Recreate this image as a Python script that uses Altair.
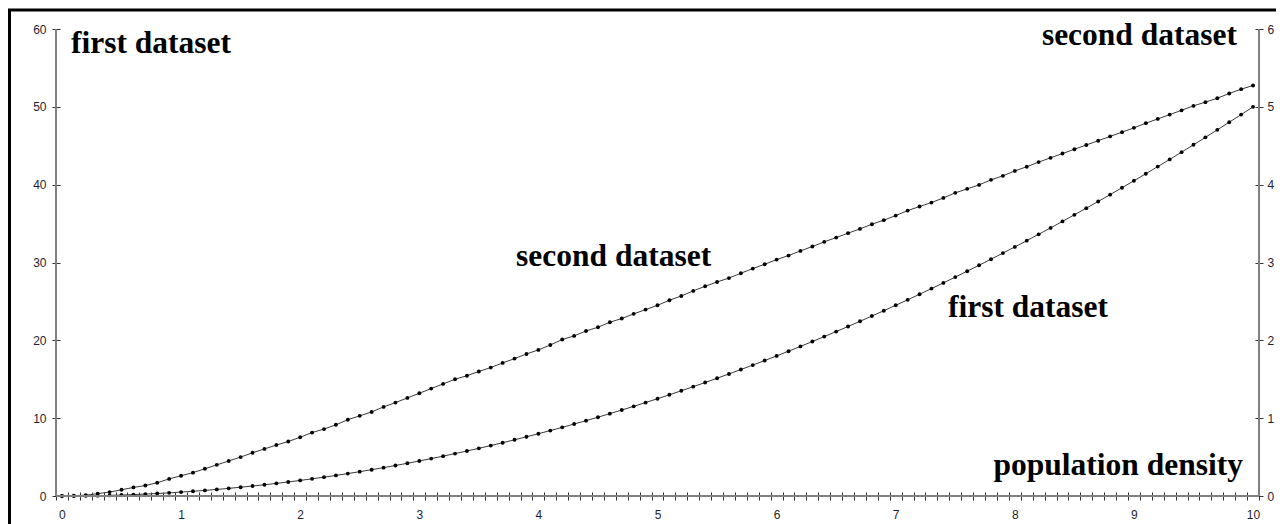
import altair as alt
import pandas as pd

# x categories: 0.0, 0.1, ..., 10.0
x_values = [round(i * 0.1, 1) for i in range(101)]

first_dataset = [
    0.0, 0.005, 0.02, 0.045, 0.08, 0.125, 0.18, 0.245, 0.32, 0.405,
    0.5, 0.605, 0.72, 0.845, 0.98, 1.125, 1.28, 1.445, 1.62, 1.805,
    2.0, 2.205, 2.42, 2.645, 2.88, 3.125, 3.38, 3.645, 3.92, 4.205,
    4.5, 4.805, 5.12, 5.445, 5.78, 6.125, 6.48, 6.845, 7.22, 7.605,
    8.0, 8.405, 8.82, 9.245, 9.68, 10.125, 10.58, 11.045, 11.52, 12.005,
    12.5, 13.005, 13.52, 14.045, 14.58, 15.125, 15.68, 16.245, 16.82, 17.405,
    18.0, 18.605, 19.22, 19.845, 20.48, 21.125, 21.78, 22.445, 23.12, 23.805,
    24.5, 25.205, 25.92, 26.645, 27.38, 28.125, 28.88, 29.645, 30.42, 31.205,
    32.0, 32.805, 33.62, 34.445, 35.28, 36.125, 36.98, 37.845, 38.72, 39.605,
    40.5, 41.405, 42.32, 43.245, 44.18, 45.125, 46.08, 47.045, 48.02, 49.005,
    50.0,
]

second_dataset = [
    0.0, 0.005, 0.01, 0.03, 0.05, 0.08, 0.11, 0.135, 0.17, 0.22,
    0.26, 0.30, 0.35, 0.40, 0.45, 0.50, 0.555, 0.605, 0.655, 0.70,
    0.755, 0.815, 0.86, 0.915, 0.98, 1.03, 1.08, 1.145, 1.20, 1.26,
    1.32, 1.38, 1.44, 1.50, 1.545, 1.60, 1.65, 1.71, 1.765, 1.825,
    1.877, 1.94, 2.01, 2.057, 2.12, 2.168, 2.233, 2.28, 2.34, 2.395,
    2.45, 2.515, 2.57, 2.635, 2.695, 2.75, 2.80, 2.862, 2.922, 2.978,
    3.037, 3.089, 3.149, 3.205, 3.265, 3.32, 3.377, 3.432, 3.492, 3.544,
    3.603, 3.667, 3.719, 3.77, 3.83, 3.895, 3.946, 3.997, 4.062, 4.113,
    4.177, 4.23, 4.29, 4.345, 4.40, 4.455, 4.51, 4.565, 4.62, 4.675,
    4.73, 4.79, 4.845, 4.90, 4.955, 5.013, 5.06, 5.111, 5.171, 5.227,
    5.274,
]

left_ticks = [0, 10, 20, 30, 40, 50, 60]
right_ticks = [0, 1, 2, 3, 4, 5, 6]

assert len(x_values) == len(first_dataset) == len(second_dataset) == 101

df = pd.DataFrame({"x": x_values, "first": first_dataset, "second": second_dataset})
one = pd.DataFrame({"a": [0]})

W, H = 1203, 467
LABEL_FONT = "Liberation Sans"
LABEL_SIZE = 12
LABEL_COLOR = "#1e1e32"
TICK_COLOR = "#333333"
AXIS_COLOR = "#808080"

# ticks sit between the categories (every 0.1, offset by half a step)
x_tick_vals = [round(-0.05 + 0.1 * k, 2) for k in range(102)]
half_step_px = W / 10.1 * 0.05

x_scale = alt.Scale(domain=[-0.05, 10.05], nice=False, zero=False)
x_axis = alt.Axis(
    values=x_tick_vals,
    labelExpr="abs((datum.value + 0.05) - round(datum.value + 0.05)) < 0.001 ? format(round(datum.value + 0.05), 'd') : ''",
    labelOffset=half_step_px,
    labelFlush=False,
    labelOverlap=False,
    labelBound=False,
    domain=False,
    grid=False,
    offset=-4,
    tickSize=8,
    tickColor=TICK_COLOR,
    tickWidth=1,
    labelPadding=9,
    labelFont=LABEL_FONT,
    labelFontSize=LABEL_SIZE,
    labelColor=LABEL_COLOR,
    title=None,
)

left_axis = alt.Axis(
    values=left_ticks, orient="left", domain=False, grid=False, offset=-4,
    tickSize=8, tickColor=TICK_COLOR, tickWidth=1, labelPadding=6,
    labelFont=LABEL_FONT, labelFontSize=LABEL_SIZE, labelColor=LABEL_COLOR, title=None,
)
right_axis = alt.Axis(
    values=right_ticks, orient="right", domain=False, grid=False, offset=-4,
    tickSize=8, tickColor=TICK_COLOR, tickWidth=1, labelPadding=4,
    labelFont=LABEL_FONT, labelFontSize=LABEL_SIZE, labelColor=LABEL_COLOR, title=None,
)

point_def = alt.OverlayMarkDef(filled=True, color="black", size=15, opacity=1)

lower = alt.Chart(df).mark_line(color="#3a3a3a", strokeWidth=1, point=point_def).encode(
    x=alt.X("x:Q", scale=x_scale, axis=x_axis),
    y=alt.Y("first:Q", scale=alt.Scale(domain=[0, 60], nice=False), axis=left_axis),
)
upper = alt.Chart(df).mark_line(color="#3a3a3a", strokeWidth=1, point=point_def).encode(
    x=alt.X("x:Q", scale=x_scale, axis=x_axis),
    y=alt.Y("second:Q", scale=alt.Scale(domain=[0, 6], nice=False), axis=right_axis),
)

# axis lines (left, right, bottom)
left_line = alt.Chart(one).mark_rule(color=AXIS_COLOR, strokeWidth=2).encode(
    x=alt.value(0), y=alt.value(0), y2=alt.value(H))
right_line = alt.Chart(one).mark_rule(color=AXIS_COLOR, strokeWidth=2).encode(
    x=alt.value(W), y=alt.value(0), y2=alt.value(H))
bottom_line = alt.Chart(one).mark_rule(color=AXIS_COLOR, strokeWidth=2).encode(
    x=alt.value(0), x2=alt.value(W), y=alt.value(H))

# frame around the picture (left and top edges are visible)
frame_left = alt.Chart(one).mark_rule(color="black", strokeWidth=3).encode(
    x=alt.value(-46.5), y=alt.value(-20), y2=alt.value(H + 60))
frame_top = alt.Chart(one).mark_rule(color="black", strokeWidth=3).encode(
    x=alt.value(-48), x2=alt.value(W + 60), y=alt.value(-19))


def label(text, x, y, align):
    return alt.Chart(one).mark_text(
        text=text, font="Liberation Serif", fontWeight="bold", fontSize=31.5,
        align=align, baseline="alphabetic", color="black",
    ).encode(x=alt.value(x), y=alt.value(y))


texts = [
    label("first dataset", 15, 24, "left"),
    label("second dataset", 1181, 16, "right"),
    label("second dataset", 460, 237, "left"),
    label("first dataset", 892, 288, "left"),
    label("population density", 1187, 446, "right"),
]

chart = alt.layer(
    lower, upper, left_line, right_line, bottom_line, frame_left, frame_top, *texts
).resolve_scale(y="independent").properties(
    width=W, height=H,
    autosize=alt.AutoSizeParams(type="none"),
    padding={"left": 48, "top": 21, "right": 17, "bottom": 28},
    background="white",
).configure_view(stroke=None)

chart.save("out.html", embed_options={"renderer": "svg", "actions": False})
